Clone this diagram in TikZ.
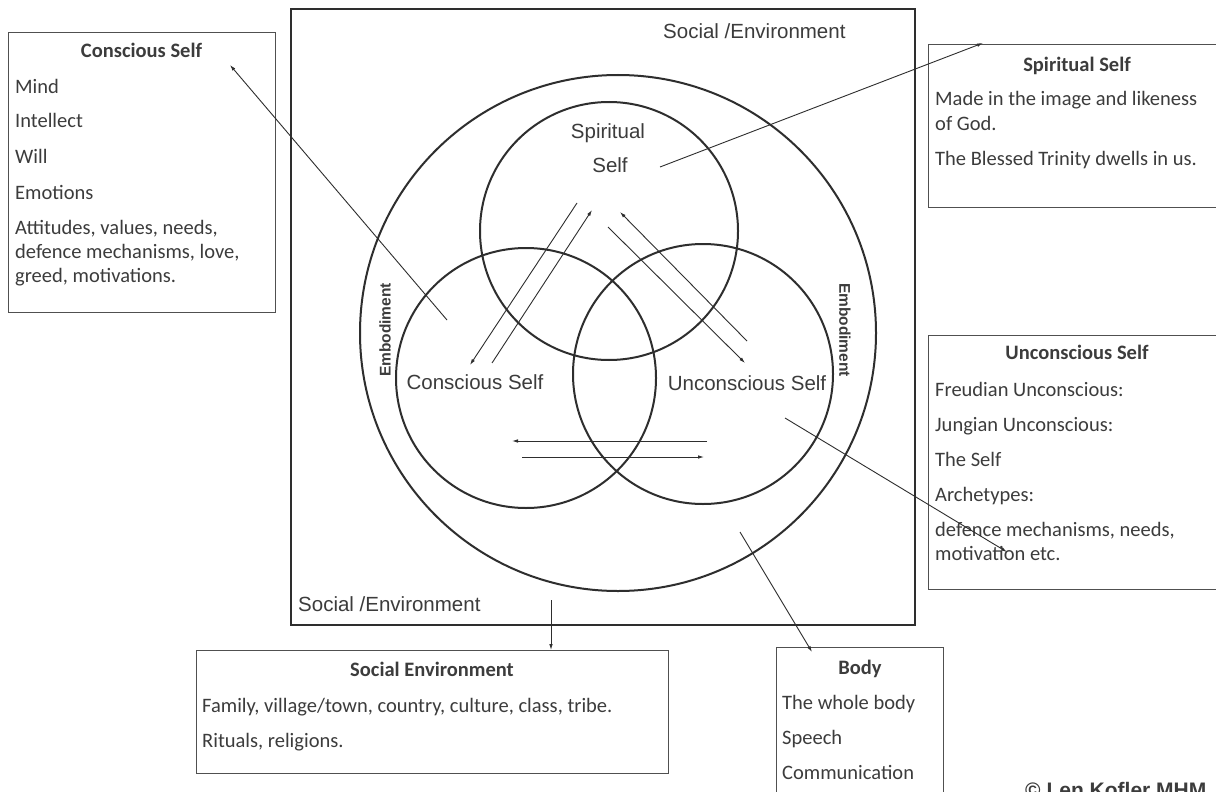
\documentclass[tikz,border=0pt]{standalone}
\usepackage{fontspec}
\setmainfont{Carlito}
\newfontfamily\arialf{Liberation Sans}
\usetikzlibrary{arrows.meta}
\definecolor{ink}{HTML}{2E2E2E}
\definecolor{txt}{HTML}{3C3C3C}
\definecolor{boxc}{HTML}{505050}
\begin{document}
\begin{tikzpicture}[x=1pt,y=-1pt,
  ring/.style={draw=ink, line width=2pt, circle, inner sep=0pt},
  framebox/.style={draw=boxc, line width=1.3pt, anchor=north west, inner sep=0pt},
  bodytxt/.style={font=\fontsize{20.5}{24}\selectfont, text=txt, inner sep=0pt, anchor=base west},
  headtxt/.style={font=\fontsize{20.5}{24}\selectfont\bfseries, text=txt, inner sep=0pt, anchor=base},
  lbl/.style={font=\arialf\fontsize{20.5}{24}\selectfont, text=txt, inner sep=0pt},
  emb/.style={font=\arialf\bfseries\fontsize{15.5}{18}\selectfont, text=txt, inner sep=0pt},
  arr/.style={draw=ink, line width=0.9pt, -{Latex[length=6pt,width=3.6pt]}},
]
\useasboundingbox (0,0) rectangle (1216,792);
\fill[white] (0,0) rectangle (1216,792);

% outer square
\node[draw=ink, line width=2.2pt, minimum width=624pt, minimum height=616pt, anchor=north west, inner sep=0pt] (sq) at (290,8) {};

% circles
\node[ring, minimum size=516pt] (outer) at (618,333) {};
\node[ring, minimum size=258pt] (spc) at (609,231) {};
\node[ring, minimum size=260pt] (csc) at (526,378) {};
\node[ring, minimum size=260pt] (ucc) at (703,374) {};

% labels inside the square
\node[lbl, anchor=base west] (se1) at (663,39) {Social /Environment};
\node[lbl, anchor=base west] (se2) at (298,611) {Social /Environment};
\node[lbl, anchor=base] (spl1) at (608,139) {Spiritual};
\node[lbl, anchor=base] (spl2) at (610,172) {Self};
\node[lbl, anchor=base] (csl) at (475,389) {Conscious Self};
\node[lbl, anchor=base] (ucl) at (747,390) {Unconscious Self};
\node[emb, rotate=90] (emb1) at (385,330) {Embodiment};
\node[emb, rotate=-90] (emb2) at (845,330) {Embodiment};

% interaction arrows
\coordinate (a1s) at (577,203); \coordinate (a1e) at (470,365);
\coordinate (a2s) at (492,363); \coordinate (a2e) at (592,210);
\coordinate (a3s) at (608,227); \coordinate (a3e) at (745,363);
\coordinate (a4s) at (747,341); \coordinate (a4e) at (620,212);
\coordinate (a5s) at (707,441); \coordinate (a5e) at (512,441);
\coordinate (a6s) at (522,457); \coordinate (a6e) at (704,457);
\draw[arr] (a1s) -- (a1e);
\draw[arr] (a2s) -- (a2e);
\draw[arr] (a3s) -- (a3e);
\draw[arr] (a4s) -- (a4e);
\draw[arr] (a5s) -- (a5e);
\draw[arr] (a6s) -- (a6e);

% boxes
\node[framebox, minimum width=267pt, minimum height=280pt] (cbox) at (8,32) {};
\node[framebox, minimum width=298pt, minimum height=163pt] (sbox) at (928,44) {};
\node[framebox, minimum width=298pt, minimum height=254pt] (ubox) at (928,335) {};
\node[framebox, minimum width=472pt, minimum height=123pt] (ebox) at (196,650) {};
\node[framebox, minimum width=167pt, minimum height=160pt] (bbox) at (776,647) {};

% Conscious Self box text
\node[headtxt] (ct) at (141.5,58) {Conscious Self};
\node[bodytxt] (c1) at (15,93) {Mind};
\node[bodytxt] (c2) at (15,128) {Intellect};
\node[bodytxt] (c3) at (15,163) {Will};
\node[bodytxt] (c4) at (15,199) {Emotions};
\node[bodytxt] (c5) at (15,234) {Attitudes, values, needs,};
\node[bodytxt] (c6) at (15,258) {defence mechanisms, love,};
\node[bodytxt] (c7) at (15,282) {greed, motivations.};

% Spiritual Self box text
\node[headtxt] (st) at (1077,71) {Spiritual Self};
\node[bodytxt] (s1) at (935,106) {Made in the image and likeness};
\node[bodytxt] (s2) at (935,130) {of God.};
\node[bodytxt] (s3) at (935,165) {The Blessed Trinity dwells in us.};

% Unconscious Self box text
\node[headtxt] (ut) at (1077,359) {Unconscious Self};
\node[bodytxt] (u1) at (935,396) {Freudian Unconscious:};
\node[bodytxt] (u2) at (935,431) {Jungian Unconscious:};
\node[bodytxt] (u3) at (935,466) {The Self};
\node[bodytxt] (u4) at (935,501) {Archetypes:};
\node[bodytxt] (u5) at (935,536) {defence mechanisms, needs,};
\node[bodytxt] (u6) at (935,560) {motivation etc.};

% Social Environment box text
\node[headtxt] (et) at (432,676) {Social Environment};
\node[bodytxt] (e1) at (202,712) {Family, village/town, country, culture, class, tribe.};
\node[bodytxt] (e2) at (202,747) {Rituals, religions.};

% Body box text
\node[headtxt] (bt) at (860,674) {Body};
\node[bodytxt] (b1) at (782,709) {The whole body};
\node[bodytxt] (b2) at (782,744) {Speech};
\node[bodytxt] (b3) at (782,779) {Communication};

% pointer connectors
\coordinate (pcs) at (447,320); \coordinate (pce) at (230,65);
\coordinate (pss) at (660,167); \coordinate (pse) at (983,43);
\coordinate (pus) at (785,418); \coordinate (pue) at (1007,552);
\coordinate (pes) at (551,600); \coordinate (pee) at (551,650);
\coordinate (pbs) at (740,532); \coordinate (pbe) at (812,652);
\draw[arr] (pcs) -- (pce);
\draw[arr] (pss) -- (pse);
\draw[arr] (pus) -- (pue);
\draw[arr] (pes) -- (pee);
\draw[arr] (pbs) -- (pbe);

% copyright
\node[font=\arialf\bfseries\fontsize{21}{24}\selectfont, text=txt, anchor=base west, inner sep=0pt] (copy) at (1025,797) {© Len Kofler MHM};
\end{tikzpicture}
\end{document}
